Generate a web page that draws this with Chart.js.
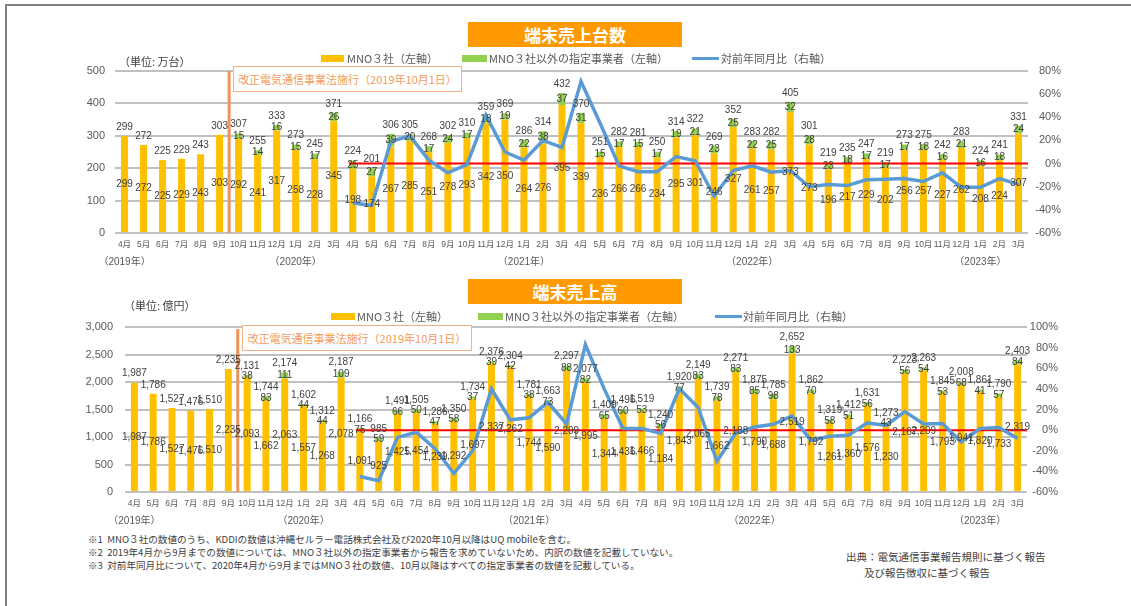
<!DOCTYPE html>
<html lang="ja">
<head>
<meta charset="utf-8">
<script src="https://cdn.jsdelivr.net/npm/chart.js@4.4.0/dist/chart.umd.min.js"></script>
<style>
  body { margin:0; width:1131px; height:606px; position:relative; background:#fff; overflow:hidden;
         font-family:'Liberation Sans','Noto Sans CJK JP',sans-serif; color:#595959; }
  canvas { position:absolute; left:0; }
  .abs { position:absolute; white-space:nowrap; }
  .frame-top { left:5px; top:4px; width:1126px; height:2px; background:#7f7f7f; }
  .frame-left { left:5px; top:4px; width:2px; height:602px; background:#7f7f7f; }
  .title { left:468px; width:214px; height:25px; background:#ff9900; color:#fff; font-weight:bold;
           font-size:17px; line-height:25px; text-align:center; font-family:'Noto Sans CJK JP',sans-serif; }
  .leg { font-size:11px; line-height:14px; font-family:'Noto Sans CJK JP',sans-serif; color:#595959; }
  .sw { position:absolute; }
  .unit { font-size:11px; font-family:'Noto Sans CJK JP',sans-serif; color:#404040; }
  .note { left:233px; height:24px; border:1px solid #f4b183; background:#fff; color:#f29b5c;
          font-size:11px; line-height:24px; text-align:center; font-family:'Noto Sans CJK JP',sans-serif; }
  .foot { left:88px; font-size:9.6px; line-height:13px; color:#404040; font-family:'Noto Sans CJK JP',sans-serif; }
  .src { font-size:10.5px; line-height:16px; color:#404040; font-family:'Noto Sans CJK JP',sans-serif; }
</style>
</head>
<body>
<canvas id="unitsChart" width="1131" height="280" style="top:0"></canvas>
<canvas id="salesChart" width="1131" height="262" style="top:270px"></canvas>

<div class="abs frame-top"></div>
<div class="abs frame-left"></div>

<div class="abs title" style="top:22px">端末売上台数</div>
<div class="abs unit" style="left:119px; top:53px">（単位: 万台）</div>
<div class="abs sw" style="left:321px; top:55px; width:23px; height:7px; background:#ffc000"></div>
<div class="abs leg" style="left:347px; top:51px">MNO３社（左軸）</div>
<div class="abs sw" style="left:462px; top:55px; width:25px; height:7px; background:#92d050"></div>
<div class="abs leg" style="left:489px; top:51px">MNO３社以外の指定事業者（左軸）</div>
<div class="abs sw" style="left:692px; top:57px; width:27px; height:3px; background:#5b9bd5"></div>
<div class="abs leg" style="left:721px; top:51px">対前年同月比（右軸）</div>
<div class="abs note" style="top:66px; width:227px">改正電気通信事業法施行（2019年10月1日）</div>

<div class="abs title" style="top:279px">端末売上高</div>
<div class="abs unit" style="left:124px; top:297px">（単位: 億円）</div>
<div class="abs sw" style="left:331px; top:313px; width:24px; height:7px; background:#ffc000"></div>
<div class="abs leg" style="left:357px; top:309px">MNO３社（左軸）</div>
<div class="abs sw" style="left:478px; top:313px; width:25px; height:7px; background:#92d050"></div>
<div class="abs leg" style="left:505px; top:309px">MNO３社以外の指定事業者（左軸）</div>
<div class="abs sw" style="left:715px; top:315px; width:27px; height:3px; background:#5b9bd5"></div>
<div class="abs leg" style="left:743px; top:309px">対前年同月比（右軸）</div>
<div class="abs note" style="top:325px; left:242px; width:228px">改正電気通信事業法施行（2019年10月1日）</div>

<div class="abs foot" style="top:533px">※1&nbsp; MNO３社の数値のうち、KDDIの数値は沖縄セルラー電話株式会社及び2020年10月以降はUQ mobileを含む。<br>※2&nbsp; 2019年4月から9月までの数値については、MNO３社以外の指定事業者から報告を求めていないため、内訳の数値を記載していない。<br>※3&nbsp; 対前年同月比について、2020年4月から9月まではMNO３社の数値、10月以降はすべての指定事業者の数値を記載している。</div>
<div class="abs src" style="left:846px; top:549px">出典：電気通信事業報告規則に基づく報告</div>
<div class="abs src" style="left:864px; top:565px">及び報告徴収に基づく報告</div>

<script>
// ── 軸ラベル ──────────────────────────────────────────────
const months = [
  '4月','5月','6月','7月','8月','9月','10月','11月','12月','1月','2月','3月',
  '4月','5月','6月','7月','8月','9月','10月','11月','12月','1月','2月','3月',
  '4月','5月','6月','7月','8月','9月','10月','11月','12月','1月','2月','3月',
  '4月','5月','6月','7月','8月','9月','10月','11月','12月','1月','2月','3月'
];
const yearIdx  = [0, 9, 21, 33, 45];
const yearText = ['（2019年）', '（2020年）', '（2021年）', '（2022年）', '（2023年）'];

// ── 端末売上台数（万台） ──────────────────────────────────
const unitsMno = [
  299,272,225,229,243,303, 292,241,317,258,228,345,
  198,174,267,285,251,278, 293,342,350,264,276,395,
  339,236,266,266,234,295, 301,246,327,261,257,373,
  273,196,217,229,202,256, 257,227,262,208,224,307
];
const unitsOther = [
  null,null,null,null,null,null, 15,14,16,15,17,26,
  25,27,39,20,17,24, 17,18,19,22,38,37,
  31,15,17,15,17,19, 21,23,25,22,25,32,
  28,23,18,17,17,17, 18,16,21,16,18,24
];
const unitsTotal = [
  299,272,225,229,243,303, 307,255,333,273,245,371,
  224,201,306,305,268,302, 310,359,369,286,314,432,
  370,251,282,281,250,314, 322,269,352,283,282,405,
  301,219,235,247,219,273, 275,242,283,224,241,331
];
const unitsYoy = [
  null,null,null,null,null,null, null,null,null,null,null,null,
  -34,-36,19,24,3,-8, -1,42,10,3,20,14,
  71,35,-2,-7,-7,6, 2.5,-28,-6,-2,-7.5,-6,
  -20,-18,-19,-14,-13.5,-13, -15.5,-8,-20.5,-20.5,-13,-18
];

// ── 端末売上高（億円） ────────────────────────────────────
const salesMno = [
  1987,1786,1527,1476,1510,2235, 2093,1662,2063,1557,1268,2078,
  1091,925,1425,1454,1239,1292, 1697,2337,2262,1744,1590,2209,
  1995,1344,1436,1466,1184,1843, 2065,1662,2188,1790,1688,2519,
  1792,1261,1360,1576,1230,2167, 2209,1793,1941,1820,1733,2319
];
const salesOther = [
  null,null,null,null,null,null, 38,83,111,44,44,109,
  75,59,66,50,47,58, 37,39,42,38,73,88,
  82,65,60,53,56,77, 83,78,83,85,98,133,
  70,58,51,56,43,56, 54,53,68,41,57,84
];
const salesTotal = [
  1987,1786,1527,1476,1510,2235, 2131,1744,2174,1602,1312,2187,
  1166,985,1491,1505,1286,1350, 1734,2376,2304,1781,1663,2297,
  2077,1409,1496,1519,1240,1920, 2149,1739,2271,1875,1785,2652,
  1862,1319,1412,1631,1273,2223, 2263,1845,2008,1861,1790,2403
];
const salesYoy = [
  null,null,null,null,null,null, null,null,null,null,null,null,
  -45,-49,-7,-2,-18,-42, -20,40,10,12,27,6,
  83,40,1.5,1.5,-3,40, 22,-30,-3,3,5.6,13.7,
  -10,-6,-5,7,4.6,18, 6,6.5,-11.5,1.5,2.5,-8
];

const FONT = "'Liberation Sans','Noto Sans CJK JP',sans-serif";
Chart.defaults.font.family = FONT;
Chart.defaults.color = '#595959';

const fmtN = v => Number(v).toLocaleString('en-US');

// ── 描画 ─────────────────────────────────────────────────
function makeChart(id, s) {
  const H = document.getElementById(id).height;

  const marks = {
    id: 'marks',
    beforeDatasetsDraw(chart) {
      const { ctx, chartArea } = chart;
      const x = chart.scales.x;
      // 改正法施行の縦線（9月と10月の間）
      const lx = (x.getPixelForValue(5) + x.getPixelForValue(6)) / 2;
      ctx.save();
      ctx.strokeStyle = '#f0935a';
      ctx.lineWidth = 3;
      ctx.beginPath();
      ctx.moveTo(lx, chartArea.top + s.lineTopGap);
      ctx.lineTo(lx, chartArea.bottom);
      ctx.stroke();
      ctx.restore();
    },
    beforeDatasetDraw(chart, args) {
      if (args.index !== 2) return;
      const { ctx, chartArea } = chart;
      const y0 = chart.scales.y1.getPixelForValue(0);
      const x0 = chart.scales.x.getPixelForValue(12) - 4;
      ctx.save();
      ctx.strokeStyle = '#ff0000';
      ctx.lineWidth = 2;
      ctx.beginPath();
      ctx.moveTo(x0, y0);
      ctx.lineTo(chartArea.right, y0);
      ctx.stroke();
      ctx.restore();
    },
    afterDatasetsDraw(chart) {
      const { ctx, chartArea } = chart;
      const m0 = chart.getDatasetMeta(0), m1 = chart.getDatasetMeta(1);
      ctx.save();
      ctx.fillStyle = '#404040';
      ctx.font = '10px ' + FONT;
      ctx.textAlign = 'center';
      s.mno.forEach((v, i) => {
        const b0 = m0.data[i];
        ctx.textBaseline = 'middle';
        ctx.fillText(s.fmt(v), b0.x, (b0.y + b0.base) / 2);
        let top = b0.y;
        if (s.other[i] != null) {
          const b1 = m1.data[i];
          ctx.fillText(s.fmt(s.other[i]), b1.x, (b1.y + b1.base) / 2);
          top = b1.y;
        }
        ctx.textBaseline = 'bottom';
        ctx.fillText(s.fmt(s.total[i]), b0.x, top - 4);
      });
      // 年ラベル
      ctx.fillStyle = '#595959';
      ctx.font = '10px ' + FONT;
      ctx.textBaseline = 'middle';
      yearIdx.forEach((idx, k) => {
        ctx.fillText(yearText[k], chart.scales.x.getPixelForValue(idx), chartArea.bottom + 29);
      });
      ctx.restore();
    }
  };

  return new Chart(document.getElementById(id), {
    type: 'bar',
    data: {
      labels: months,
      datasets: [
        { label: 'MNO３社（左軸）', data: s.mno, backgroundColor: '#ffc000', yAxisID: 'y', order: 2,
          barPercentage: 0.37, categoryPercentage: 1 },
        { label: 'MNO３社以外の指定事業者（左軸）', data: s.other, backgroundColor: '#92d050', yAxisID: 'y', order: 2,
          barPercentage: 0.37, categoryPercentage: 1 },
        { type: 'line', label: '対前年同月比（右軸）', data: s.yoy, yAxisID: 'y1', order: 1,
          borderColor: '#5b9bd5', borderWidth: 3.5, pointRadius: 0, tension: 0, fill: false }
      ]
    },
    options: {
      responsive: false,
      animation: false,
      layout: { padding: { top: s.top, right: s.padRight, left: 0, bottom: 0 } },
      plugins: { legend: { display: false }, tooltip: { enabled: false } },
      scales: {
        x: {
          stacked: true,
          grid: { display: false, drawTicks: false },
          border: { display: false },
          ticks: { font: { size: 8.5 }, color: '#595959', padding: 7, maxRotation: 0, autoSkip: false },
          afterFit: a => { a.height = H - s.top - s.plotH; }
        },
        y: {
          stacked: true, min: 0, max: s.yMax,
          ticks: { stepSize: s.yStep, padding: s.leftPad, font: { size: 11 }, color: '#595959', callback: s.fmt },
          grid: { color: '#c0c0c0', lineWidth: 2, drawTicks: false },
          border: { display: false },
          afterFit: a => { a.width = s.left; }
        },
        y1: {
          position: 'right', min: s.rMin, max: s.rMax,
          ticks: { stepSize: 20, padding: 0, crossAlign: 'far', font: { size: 11 }, color: '#595959',
                   callback: v => v + '%' },
          grid: { display: false, drawTicks: false },
          border: { display: false },
          afterFit: a => { a.width = s.rightW; }
        }
      }
    },
    plugins: [marks]
  });
}

makeChart('unitsChart', {
  mno: unitsMno, other: unitsOther, total: unitsTotal, yoy: unitsYoy,
  yMax: 500, yStep: 100, rMin: -60, rMax: 80, fmt: v => String(v),
  top: 71, plotH: 162, left: 115, leftPad: 10, padRight: 70, rightW: 33, lineTopGap: 0
});

makeChart('salesChart', {
  mno: salesMno, other: salesOther, total: salesTotal, yoy: salesYoy,
  yMax: 3000, yStep: 500, rMin: -60, rMax: 100, fmt: fmtN,
  top: 57, plotH: 165, left: 125, leftPad: 12, padRight: 73, rightW: 31, lineTopGap: 2
});
</script>
</body>
</html>
